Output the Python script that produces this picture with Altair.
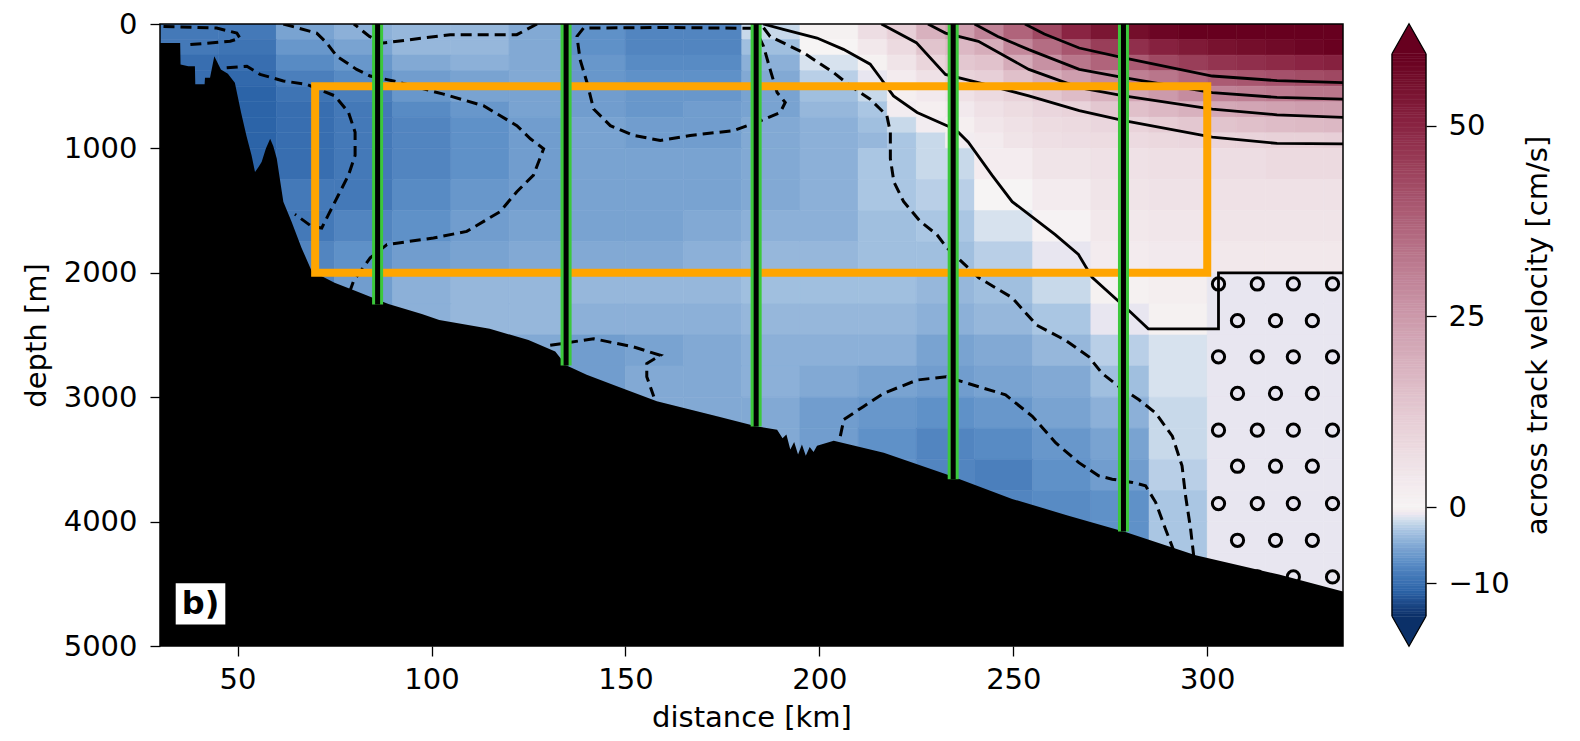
import altair as alt
import numpy as np
import pandas as pd

# ---------------- axes ----------------
X_DOMAIN = [30, 335]
Y_DOMAIN = [0, 5000]
X_TICKS = [50, 100, 150, 200, 250, 300]
Y_TICKS = [0, 1000, 2000, 3000, 4000, 5000]

# ---------------- velocity field (cm/s) ----------------
# upper 1000 m: finer cells (the strong gradient in the upper right)
X_EDGES_TOP = [30, 45, 60, 75, 90, 105, 120, 135, 150, 165, 180, 195, 210, 217.5, 225, 232.5,
               240, 247.5, 255, 262.5, 270, 277.5, 285, 292.5, 300, 307.5, 315, 322.5, 330, 335]
Y_EDGES_TOP = [0, 125, 250, 375, 500, 625, 750, 875, 1000]
VEL_TOP = [
    [-9, -9, -5.5, -4.5, -4, -4, -5, -7, -8, -8, -2, 1,
     7, 11, 19, 24, 30, 37, 43, 50, 54, 56, 58, 60, 61, 62, 63, 64, 65],
    [-9, -9.5, -6.5, -5.5, -4, -4, -5, -7, -8, -8, -3.5, 0,
     4, 8, 14, 17, 20, 29, 35, 40, 45, 48, 51, 53, 55, 56, 57, 58, 59],
    [-10, -10, -7.5, -6.5, -5, -4.5, -5, -6.5, -7.5, -7.5, -4.5, -1.5,
     1, 5, 9.5, 13, 14.5, 20.5, 27, 33, 37, 39, 43, 45, 47, 48, 49, 50, 51],
    [-10, -10.5, -8.5, -7.5, -6, -5.5, -5, -6.5, -7, -7, -5, -2.5,
     -1, 3, 6, 10, 11, 15, 20, 24, 28, 31, 33, 36, 39, 40, 41, 42, 43],
    [-10, -11, -9.5, -8.5, -6.5, -5.5, -5.5, -6, -6.5, -6.5, -5.5, -3.5,
     -2, 1.5, 3.5, 6, 8, 10, 13, 16, 19, 22, 25, 28, 30, 31, 32, 33, 33],
    [-10, -11, -10, -9, -7.5, -6.5, -5.5, -6, -6.5, -6, -5.5, -4,
     -3, -0.5, 1.5, 3.5, 6, 7.5, 9, 10, 13, 15, 17, 19, 21, 22, 23, 24, 24],
    [-10, -11, -10, -9, -8, -7, -6, -5.5, -6, -6, -5, -4.5,
     -3.5, -2, -0.5, 1.5, 4.5, 6, 7.5, 8, 9, 10, 11.5, 13, 14, 15, 16, 16.5, 17],
    [-10, -11, -10, -9, -8, -7, -6, -5.5, -6, -6, -5, -4.5,
     -4, -3, -2, -0.5, 3, 5, 6.5, 7, 7.5, 8, 8.5, 9, 9.5, 10, 10.5, 10.5, 11],
]
# below 1000 m
X_EDGES = [30, 45, 60, 75, 90, 105, 120, 135, 150, 165, 180, 195, 210, 225, 240,
           255, 270, 285, 300, 315, 330, 335]
Y_EDGES = [1000, 1250, 1500, 1750, 2000, 2250, 2500, 2750, 3000, 3250, 3500, 3750, 4000,
           4250, 4500, 4750, 5000]
VEL = [
    [-10, -11, -10, -9, -8, -7, -6, -5.5, -5.5, -5.5, -5, -4.5, -3, -2, 2.5, 5, 6, 6.5, 7, 8, 8],
    [-10, -11, -9, -9, -7.5, -6.5, -6, -5.5, -5.5, -5.5, -5, -4.5, -3, -2.5, 0, 3, 5, 5.5, 6, 6, 6],
    [-10, -11, -9, -8, -7, -6, -5.5, -5.5, -5.5, -5, -4.5, -4.5, -3.5, -3, -1.5, 0.5, 4, 4.5, 5, 5, 5],
    [-10, -11, -8, -7, -6, -5.5, -5, -5, -5, -4.5, -4, -4, -3.5, -3.5, -2.5, -1, 3, 3.5, 4, 4, 4],
    [-10, -11, -8, -6, -4.5, -4, -4, -4, -4, -4, -3.5, -3.5, -3.5, -4, -3.5, -2, 1, 2, -1, -1, -1],
    [-10, -11, -8, -6, -4.5, -4, -4, -4.5, -4.5, -4.5, -4, -4, -4, -4.5, -4, -3, -1, 1, -1, -1, -1],
    [-10, -11, -8, -6, -4.5, -4, -5, -6, -5.5, -5, -4.5, -4.5, -4.5, -5.5, -5, -4, -2.5, -1.5, -1, -1, -1],
    [-10, -11, -8, -6, -4.5, -4, -5, -6, -5, -5, -4.5, -5, -5.5, -6, -5.5, -5, -3.5, -1.5, -1, -1, -1],
    [-10, -11, -8, -6, -4.5, -4, -5, -6, -5, -5, -5, -6, -6.5, -7, -6.5, -5.5, -4.5, -2, -1, -1, -1],
    [-10, -11, -8, -6, -4.5, -4, -5, -6, -5, -5, -5, -6, -7, -8, -7.5, -6.5, -5.5, -2, -1, -1, -1],
    [-10, -11, -8, -6, -4.5, -4, -5, -6, -5, -5, -5, -6, -7, -8, -8.5, -7, -6, -2.5, -1, -1, -1],
    [-10, -11, -8, -6, -4.5, -4, -5, -6, -5, -5, -5, -6, -7, -8, -8, -7.5, -7, -3, -1, -1, -1],
    [-10, -11, -8, -6, -4.5, -4, -5, -6, -5, -5, -5, -6, -7, -8, -8, -7.5, -7, -3, -1, -1, -1],
    [-10, -11, -8, -6, -4.5, -4, -5, -6, -5, -5, -5, -6, -7, -8, -8, -7.5, -7, -3, -1, -1, -1],
    [-10, -11, -8, -6, -4.5, -4, -5, -6, -5, -5, -5, -6, -7, -8, -8, -7.5, -7, -3, -1, -1, -1],
    [-10, -11, -8, -6, -4.5, -4, -5, -6, -5, -5, -5, -6, -7, -8, -8, -7.5, -7, -3, -1, -1, -1],
]

# ---------------- colour map ----------------
CB_MIN, CB_MAX = -14.3, 59.4
CB_TICKS = [-10, 0, 25, 50]
COLOR_DOMAIN = [-14.3, -11, -9, -7, -5, -3, -1.5, 0, 3, 10, 25, 40, 50, 59.4]
COLOR_RANGE = ["#0b3068", "#2c64a8", "#4479b8", "#5f91c8", "#82a9d4", "#aac6e3", "#d7e2ee",
               "#f6f4f4", "#f3ebee", "#e9d3da", "#cc9aab", "#a8566f", "#8a2443", "#67001f"]

# ---------------- bathymetry ----------------
BATHY_KM = [30, 35.2, 35.3, 37.3, 39.0, 39.1, 41.5, 41.6, 42.9, 44.0, 45.7, 47.5, 49.3, 50.9,
            52.3, 53.6, 54.5, 55.4, 56.2, 57.3, 58.4, 59.2, 60.1, 61.8, 63.9, 66.5, 69.1, 75,
            80.3, 88.9, 97.5, 102, 115, 125, 131.9, 134.7, 140, 147.8, 158.1, 173.6, 183.7,
            189.1, 190.5, 191.5, 192.5, 193.5, 194.5, 195.5, 196.5, 197.5, 198.5, 199.4, 203.7,
            216.6, 233.8, 249.7, 264, 278.9, 297, 318.5, 335]
BATHY_DEPTH = [153, 153, 325, 339, 339, 485, 485, 432, 432, 259, 365, 400, 472, 711,
               900, 1056, 1189, 1150, 1109, 1000, 923, 980, 1082, 1428, 1587, 1800, 1985, 2080,
               2145, 2251, 2331, 2380, 2450, 2540, 2633, 2743, 2820, 2912, 3033, 3153, 3233,
               3261, 3330, 3300, 3420, 3360, 3460, 3380, 3470, 3400, 3440, 3391, 3351,
               3446, 3632, 3818, 3950, 4084, 4271, 4426, 4562]

# ---------------- moorings ----------------
MOOR_KM = [86.1, 134.7, 183.7, 234.5, 278.4]
MOOR_BOTTOM = [2255, 2745, 3235, 3660, 4080]

# ---------------- orange box ----------------
BOX_KM = [70, 300]
BOX_DEPTH = [500, 2000]

# ---------------- contours (km, depth) ----------------
Z0 = [(185.5, 0), (190.7, 44), (199.4, 113), (206.2, 204), (213.1, 323), (215.7, 432),
      (219.1, 578), (225.2, 711), (232.9, 817), (235.8, 870), (238.4, 950), (244.5, 1215),
      (249.7, 1428), (260.8, 1693), (266.8, 1853), (270.3, 2036), (280.2, 2315), (284.8, 2450),
      (302.9, 2450), (302.9, 2000), (335, 2000)]
C10 = [(216, 0), (225, 150), (232.5, 405), (241, 471), (254, 578), (267, 697), (278.5, 777),
       (301.3, 910), (318, 960), (335, 963)]
C20 = [(228, 0), (232.5, 73), (241, 139), (254, 365), (267, 511), (278.5, 578), (301.3, 684),
       (318, 730), (335, 750)]
C30 = [(240, 0), (246, 100), (254, 206), (267, 365), (278.5, 432), (301.3, 551), (318, 590),
       (335, 604)]
C40 = [(253, 0), (258, 80), (267, 193), (278.5, 272), (301.3, 418), (318, 455), (335, 471)]

D1 = [(30.9, 20), (44.6, 33), (49.8, 73), (50.6, 113), (48.1, 139), (37.7, 166), (36.5, 170)]
D2 = [(61.8, 0), (70.4, 73), (73.0, 153), (75.6, 259), (80.7, 365), (84.2, 418), (90.2, 458),
      (103.1, 564), (113.4, 657), (122.0, 817), (125.5, 923), (128.9, 1003), (126.3, 1215),
      (122.0, 1348), (117.7, 1508), (109.1, 1667), (100.5, 1720), (88.5, 1773), (84.2, 1880),
      (79.9, 2066), (79.0, 2145)]
D3 = [(47.2, 352), (52.4, 339), (55.8, 405), (61.8, 458), (67.8, 485), (75.1, 578), (78.6, 710),
      (80.3, 870), (80.3, 1056), (78.6, 1215), (76.0, 1375), (73.4, 1534), (71.7, 1640),
      (69.1, 1627), (64.8, 1530)]
D6 = [(127.2, 0), (122, 86), (104.8, 86), (87.6, 153), (84, 100), (82.4, 60), (80, 0)]
D7 = [(183.0, 35), (160, 28), (139.2, 33), (137.5, 100), (138.3, 285), (140.1, 472), (141.8, 684),
      (146.1, 817), (152.1, 896), (159.0, 936), (166.7, 896), (177.9, 857), (183.9, 790),
      (189.9, 711), (191.2, 631), (189.1, 551), (187.3, 365), (185.6, 179), (183.9, 73), (183.0, 35)]
D8 = [(185.6, 30), (187.3, 100), (196, 233), (203.7, 392), (208, 498), (213.1, 604), (217.4, 737),
      (218.3, 870), (218.3, 1082), (219.2, 1268), (221.7, 1427), (226, 1587), (230.3, 1693),
      (232.9, 1800), (241.1, 2040), (249.7, 2200), (256, 2420), (263.5, 2543), (269.5, 2676),
      (272.9, 2809), (277.2, 2914), (282.4, 3021), (286.7, 3127), (291, 3313), (293.5, 3552),
      (294.4, 3791), (295.7, 4057), (296.6, 4300)]
D9 = [(205.4, 3313), (206.3, 3180), (211.4, 3074), (216.6, 2968), (225.2, 2862), (232.7, 2835),
      (236.8, 2875), (248, 2981), (254.9, 3154), (260.9, 3366), (266.9, 3526), (272, 3632),
      (275.5, 3659), (280.7, 3685), (284.1, 3712), (286.7, 3845), (289.2, 4057), (291.8, 4269)]
D10 = [(130.6, 2583), (141.8, 2530), (152.1, 2596), (159, 2663), (155.5, 2729), (155.5, 2835),
       (157.3, 2995)]

# ---------------- hatch (masked region) ----------------
HATCH_ROWS_A = [2090, 2675, 3265, 3855, 4445]
HATCH_KM_A = [302.9, 312.9, 322.2, 332.3]
HATCH_ROWS_B = [2385, 2970, 3555, 4150]
HATCH_KM_B = [307.8, 317.6, 327.1]

# ---------------- panel label ----------------
LABEL_TEXT = "b)"
LABEL_KM = [34.05, 46.84]
LABEL_DEPTH = [4496, 4827]

# =====================================================================
W, H = 1183, 622
FONT = "DejaVu Sans"
FS = 29


def grid_rows(xe, ye, vals):
    out = []
    for i in range(len(ye) - 1):
        for j in range(len(xe) - 1):
            out.append(dict(x0=xe[j], x1=xe[j + 1], y0=ye[i], y1=ye[i + 1], v=vals[i][j]))
    return out


field_df = pd.DataFrame(grid_rows(X_EDGES_TOP, Y_EDGES_TOP, VEL_TOP)
                        + grid_rows(X_EDGES, Y_EDGES, VEL))


def contour_df(d):
    recs = []
    for name, pts in d.items():
        for k, (km, dep) in enumerate(pts):
            recs.append({"line": name, "i": k, "km": km, "depth": dep})
    return pd.DataFrame(recs)


solid_df = contour_df({"z0": Z0, "c10": C10, "c20": C20, "c30": C30, "c40": C40})
dash_df = contour_df({"d1": D1, "d2": D2, "d3": D3, "d6": D6, "d7": D7, "d8": D8,
                      "d9": D9, "d10": D10})

hatch_df = pd.DataFrame(
    [{"km": k, "depth": d} for d in HATCH_ROWS_A for k in HATCH_KM_A]
    + [{"km": k, "depth": d} for d in HATCH_ROWS_B for k in HATCH_KM_B])

bathy_df = pd.DataFrame({"km": BATHY_KM, "depth": BATHY_DEPTH,
                         "bottom": [Y_DOMAIN[1]] * len(BATHY_KM)})
moor_df = pd.DataFrame({"km": MOOR_KM, "top": [0] * len(MOOR_KM), "bottom": MOOR_BOTTOM})
box_df = pd.DataFrame({"x0": [BOX_KM[0]], "x1": [BOX_KM[1]],
                       "y0": [BOX_DEPTH[0]], "y1": [BOX_DEPTH[1]]})
lab_df = pd.DataFrame({"x0": [LABEL_KM[0]], "x1": [LABEL_KM[1]],
                       "y0": [LABEL_DEPTH[0]], "y1": [LABEL_DEPTH[1]],
                       "xc": [sum(LABEL_KM) / 2], "yc": [sum(LABEL_DEPTH) / 2],
                       "t": [LABEL_TEXT]})

XS = alt.Scale(domain=X_DOMAIN, nice=False, zero=False)
YS = alt.Scale(domain=Y_DOMAIN, reverse=True, nice=False, zero=False)
CS = alt.Scale(domain=COLOR_DOMAIN, range=COLOR_RANGE, clamp=True)

X_AXIS = alt.Axis(values=X_TICKS, format="d", title="distance [km]", grid=False, domain=False,
                  tickSize=10, tickWidth=1.3, tickColor="black", labelFont=FONT,
                  labelFontSize=FS, labelColor="black", labelPadding=9, titleFont=FONT,
                  titleFontSize=FS, titleFontWeight="normal", titleColor="black",
                  titlePadding=9)
Y_AXIS = alt.Axis(values=Y_TICKS, format="d", title="depth [m]", grid=False, domain=False,
                  tickSize=10, tickWidth=1.3, tickColor="black", labelFont=FONT,
                  labelFontSize=FS, labelColor="black", labelPadding=13, titleFont=FONT,
                  titleFontSize=FS, titleFontWeight="normal", titleColor="black",
                  titlePadding=12)


def xq(f):
    return alt.X(f, type="quantitative", scale=XS, axis=X_AXIS)


def yq(f):
    return alt.Y(f, type="quantitative", scale=YS, axis=Y_AXIS)


field = alt.Chart(field_df).mark_rect(clip=True, strokeWidth=0.6).encode(
    x=xq("x0"), x2="x1", y=yq("y0"), y2="y1",
    color=alt.Color("v:Q", scale=CS, legend=None),
    stroke=alt.Stroke("v:Q", scale=CS, legend=None),
)

hatch = alt.Chart(hatch_df).mark_point(shape="circle", filled=False, color="black", size=150,
                                       strokeWidth=3, opacity=1, clip=True).encode(
    x=xq("km"), y=yq("depth"))

dashed = alt.Chart(dash_df).mark_line(color="black", strokeWidth=3, strokeDash=[11, 6],
                                      clip=True).encode(
    x=xq("km"), y=yq("depth"), detail="line:N", order="i:Q")

solid = alt.Chart(solid_df).mark_line(color="black", strokeWidth=2.8, clip=True).encode(
    x=xq("km"), y=yq("depth"), detail="line:N", order="i:Q")

seabed = alt.Chart(bathy_df).mark_area(color="black", opacity=1, clip=True).encode(
    x=xq("km"), y=yq("depth"), y2="bottom")

box = alt.Chart(box_df).mark_rect(fillOpacity=0, stroke="#ffa500", strokeWidth=8).encode(
    x=xq("x0"), x2="x1", y=yq("y0"), y2="y1")

moor_g = alt.Chart(moor_df).mark_rule(color="#3cc83c", strokeWidth=11).encode(
    x=xq("km"), y=yq("top"), y2="bottom")
moor_k = alt.Chart(moor_df).mark_rule(color="black", strokeWidth=5).encode(
    x=xq("km"), y=yq("top"), y2="bottom")

lab_box = alt.Chart(lab_df).mark_rect(color="white", opacity=1).encode(
    x=xq("x0"), x2="x1", y=yq("y0"), y2="y1")
lab_txt = alt.Chart(lab_df).mark_text(font=FONT, fontSize=32, fontWeight="bold",
                                      color="black", align="center", baseline="middle").encode(
    x=xq("xc"), y=yq("yc"), text="t:N")

frame = alt.Chart(box_df).mark_rect(fillOpacity=0, stroke="black", strokeWidth=1.5).encode(
    x=alt.value(0), x2=alt.value(W), y=alt.value(0), y2=alt.value(H))

main = alt.layer(field, hatch, dashed, solid, seabed, box, moor_g, moor_k, lab_box, lab_txt,
                 frame).properties(width=W, height=H)

# ---------------- colour bar ----------------
CB_W = 34
TIP = 3.9  # extension length in data units (~30 px)
cb_levels = np.linspace(CB_MIN, CB_MAX, 222)
cb_df = pd.DataFrame({"lo": cb_levels[:-1], "hi": cb_levels[1:],
                      "mid": (cb_levels[:-1] + cb_levels[1:]) / 2})
CBS = alt.Scale(domain=[CB_MIN - TIP, CB_MAX + TIP], nice=False, zero=False)
CB_AXIS = alt.Axis(orient="right", values=CB_TICKS, format="d",
                   title="across track velocity [cm/s]", grid=False, domain=False,
                   tickSize=10, tickWidth=1.3, tickColor="black", labelFont=FONT,
                   labelFontSize=FS, labelColor="black", labelPadding=12, titleFont=FONT,
                   titleFontSize=FS, titleFontWeight="normal", titleColor="black",
                   titlePadding=14, titleAngle=270, titleBaseline="top")

cb_body = alt.Chart(cb_df).mark_rect(strokeWidth=0.6).encode(
    y=alt.Y("lo:Q", scale=CBS, axis=CB_AXIS), y2="hi:Q",
    x=alt.value(0), x2=alt.value(CB_W),
    color=alt.Color("mid:Q", scale=CS, legend=None),
    stroke=alt.Stroke("mid:Q", scale=CS, legend=None))

cb_edge_df = pd.DataFrame({"lo": [CB_MIN], "hi": [CB_MAX]})
cb_left = alt.Chart(cb_edge_df).mark_rule(color="black", strokeWidth=1.3).encode(
    y=alt.Y("lo:Q", scale=CBS, axis=CB_AXIS), y2="hi:Q", x=alt.value(0))
cb_right = alt.Chart(cb_edge_df).mark_rule(color="black", strokeWidth=1.3).encode(
    y=alt.Y("lo:Q", scale=CBS, axis=CB_AXIS), y2="hi:Q", x=alt.value(CB_W))

tri_top = alt.Chart(pd.DataFrame({"v": [CB_MAX]})).mark_point(
    shape="M-1,0L0,-1.765L1,0", size=CB_W * CB_W, filled=True, fill=COLOR_RANGE[-1],
    fillOpacity=1, stroke="black", strokeWidth=1.3, opacity=1).encode(
    y=alt.Y("v:Q", scale=CBS, axis=CB_AXIS), x=alt.value(CB_W / 2))
tri_bot = alt.Chart(pd.DataFrame({"v": [CB_MIN]})).mark_point(
    shape="M-1,0L0,1.765L1,0", size=CB_W * CB_W, filled=True, fill=COLOR_RANGE[0],
    fillOpacity=1, stroke="black", strokeWidth=1.3, opacity=1).encode(
    y=alt.Y("v:Q", scale=CBS, axis=CB_AXIS), x=alt.value(CB_W / 2))

cbar = alt.layer(cb_body, cb_left, cb_right, tri_top, tri_bot).properties(width=CB_W, height=H)

chart = alt.hconcat(main, cbar, spacing=45).resolve_scale(y="independent").properties(
    padding={"left": 14, "top": 2, "right": 5, "bottom": 0}
).configure(font=FONT).configure_view(stroke=None)

chart.save("out.html", embed_options={"renderer": "svg", "actions": False})
